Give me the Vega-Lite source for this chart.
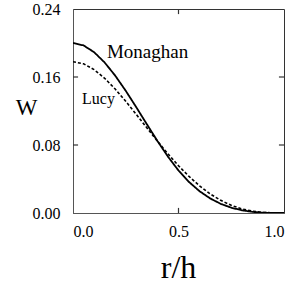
{
  "$schema": "https://vega.github.io/schema/vega-lite/v6.json",
  "autosize": "none",
  "width": 211,
  "height": 204,
  "padding": {"left": 73, "top": 9, "right": 11, "bottom": 73},
  "background": "white",
  "config": {
    "view": {"stroke": "#333333", "strokeWidth": 1},
    "font": "Liberation Serif",
    "axis": {"grid": false, "domainColor": "#555555", "labelColor": "black", "titleColor": "black", "labelFont": "Liberation Serif", "titleFont": "Liberation Serif", "titleFontWeight": "normal", "labelFontSize": 16}
  },
  "datasets": {
    "curves": [
      {"q": 0.0, "W": 0.2, "kernel": "Monaghan"},
      {"q": 0.05, "W": 0.19715, "kernel": "Monaghan"},
      {"q": 0.1, "W": 0.1892, "kernel": "Monaghan"},
      {"q": 0.15, "W": 0.17705, "kernel": "Monaghan"},
      {"q": 0.2, "W": 0.1616, "kernel": "Monaghan"},
      {"q": 0.25, "W": 0.14375, "kernel": "Monaghan"},
      {"q": 0.3, "W": 0.1244, "kernel": "Monaghan"},
      {"q": 0.35, "W": 0.10445, "kernel": "Monaghan"},
      {"q": 0.4, "W": 0.0848, "kernel": "Monaghan"},
      {"q": 0.45, "W": 0.06635, "kernel": "Monaghan"},
      {"q": 0.5, "W": 0.05, "kernel": "Monaghan"},
      {"q": 0.55, "W": 0.03645, "kernel": "Monaghan"},
      {"q": 0.6, "W": 0.0256, "kernel": "Monaghan"},
      {"q": 0.65, "W": 0.01715, "kernel": "Monaghan"},
      {"q": 0.7, "W": 0.0108, "kernel": "Monaghan"},
      {"q": 0.75, "W": 0.00625, "kernel": "Monaghan"},
      {"q": 0.8, "W": 0.0032, "kernel": "Monaghan"},
      {"q": 0.85, "W": 0.00135, "kernel": "Monaghan"},
      {"q": 0.9, "W": 0.0004, "kernel": "Monaghan"},
      {"q": 0.95, "W": 0.00005, "kernel": "Monaghan"},
      {"q": 1.0, "W": 0.0, "kernel": "Monaghan"},
      {"q": 0.0, "W": 0.178, "kernel": "Lucy"},
      {"q": 0.05, "W": 0.1755, "kernel": "Lucy"},
      {"q": 0.1, "W": 0.16869, "kernel": "Lucy"},
      {"q": 0.15, "W": 0.15851, "kernel": "Lucy"},
      {"q": 0.2, "W": 0.14582, "kernel": "Lucy"},
      {"q": 0.25, "W": 0.13141, "kernel": "Lucy"},
      {"q": 0.3, "W": 0.116, "kernel": "Lucy"},
      {"q": 0.35, "W": 0.10021, "kernel": "Lucy"},
      {"q": 0.4, "W": 0.08459, "kernel": "Lucy"},
      {"q": 0.45, "W": 0.06959, "kernel": "Lucy"},
      {"q": 0.5, "W": 0.05563, "kernel": "Lucy"},
      {"q": 0.55, "W": 0.04298, "kernel": "Lucy"},
      {"q": 0.6, "W": 0.0319, "kernel": "Lucy"},
      {"q": 0.65, "W": 0.02251, "kernel": "Lucy"},
      {"q": 0.7, "W": 0.0149, "kernel": "Lucy"},
      {"q": 0.75, "W": 0.00904, "kernel": "Lucy"},
      {"q": 0.8, "W": 0.00484, "kernel": "Lucy"},
      {"q": 0.85, "W": 0.00213, "kernel": "Lucy"},
      {"q": 0.9, "W": 0.00066, "kernel": "Lucy"},
      {"q": 0.95, "W": 0.00009, "kernel": "Lucy"},
      {"q": 1.0, "W": 0.0, "kernel": "Lucy"}
    ],
    "labels": [
      {"q": 0.161, "W": 0.1894, "text": "Monaghan"},
      {"q": 0.043, "W": 0.134, "text": "Lucy"}
    ],
    "xticks": [{"q": 0.5}],
    "yticks": [{"W": 0.08}, {"W": 0.16}]
  },
  "layer": [
    {
      "data": {"name": "curves"},
      "mark": {"type": "line", "color": "black", "clip": true},
      "encoding": {
        "x": {"field": "q", "type": "quantitative", "scale": {"domain": [0, 1], "nice": false},
              "axis": {"values": [0, 0.5, 1], "format": ".1f", "ticks": false, "tickSize": 0, "labelPadding": 10, "title": "r/h", "titleFontSize": 32, "titleBaseline": "alphabetic", "titleAlign": "center", "titleX": 105, "titleY": 64}},
        "y": {"field": "W", "type": "quantitative", "scale": {"domain": [0, 0.24], "nice": false},
              "axis": {"values": [0, 0.08, 0.16, 0.24], "format": ".2f", "ticks": false, "tickSize": 0, "labelPadding": 13, "title": "W", "titleFontSize": 23, "titleAngle": 0, "titleAlign": "center", "titleBaseline": "middle", "titleX": -47, "titleY": 98}},
        "strokeDash": {"field": "kernel", "type": "nominal", "scale": {"domain": ["Monaghan", "Lucy"], "range": [[1, 0], [3, 2]]}, "legend": null},
        "strokeWidth": {"field": "kernel", "type": "nominal", "scale": {"domain": ["Monaghan", "Lucy"], "range": [1.8, 1.6]}, "legend": null}
      }
    },
    {
      "data": {"name": "xticks"},
      "mark": {"type": "rule", "color": "#333333", "strokeWidth": 1.2},
      "encoding": {
        "x": {"field": "q", "type": "quantitative", "axis": null},
        "y": {"datum": 0, "type": "quantitative", "axis": null},
        "y2": {"datum": 0.006}
      }
    },
    {
      "data": {"name": "xticks"},
      "mark": {"type": "rule", "color": "#333333", "strokeWidth": 1.2},
      "encoding": {
        "x": {"field": "q", "type": "quantitative", "axis": null},
        "y": {"datum": 0.24, "type": "quantitative", "axis": null},
        "y2": {"datum": 0.234}
      }
    },
    {
      "data": {"name": "yticks"},
      "mark": {"type": "rule", "color": "#333333", "strokeWidth": 1.2},
      "encoding": {
        "y": {"field": "W", "type": "quantitative", "axis": null},
        "x": {"datum": 0, "type": "quantitative", "axis": null},
        "x2": {"datum": 0.024}
      }
    },
    {
      "data": {"name": "yticks"},
      "mark": {"type": "rule", "color": "#333333", "strokeWidth": 1.2},
      "encoding": {
        "y": {"field": "W", "type": "quantitative", "axis": null},
        "x": {"datum": 1, "type": "quantitative", "axis": null},
        "x2": {"datum": 0.976}
      }
    },
    {
      "data": {"name": "labels"},
      "transform": [{"filter": "datum.text == 'Monaghan'"}],
      "mark": {"type": "text", "align": "left", "baseline": "middle", "fontSize": 19, "font": "Liberation Serif", "color": "black"},
      "encoding": {
        "x": {"field": "q", "type": "quantitative", "axis": null},
        "y": {"field": "W", "type": "quantitative", "axis": null},
        "text": {"field": "text"}
      }
    },
    {
      "data": {"name": "labels"},
      "transform": [{"filter": "datum.text == 'Lucy'"}],
      "mark": {"type": "text", "align": "left", "baseline": "middle", "fontSize": 16, "font": "Liberation Serif", "color": "black"},
      "encoding": {
        "x": {"field": "q", "type": "quantitative", "axis": null},
        "y": {"field": "W", "type": "quantitative", "axis": null},
        "text": {"field": "text"}
      }
    }
  ],
  "resolve": {"axis": {"x": "independent", "y": "independent"}}
}
